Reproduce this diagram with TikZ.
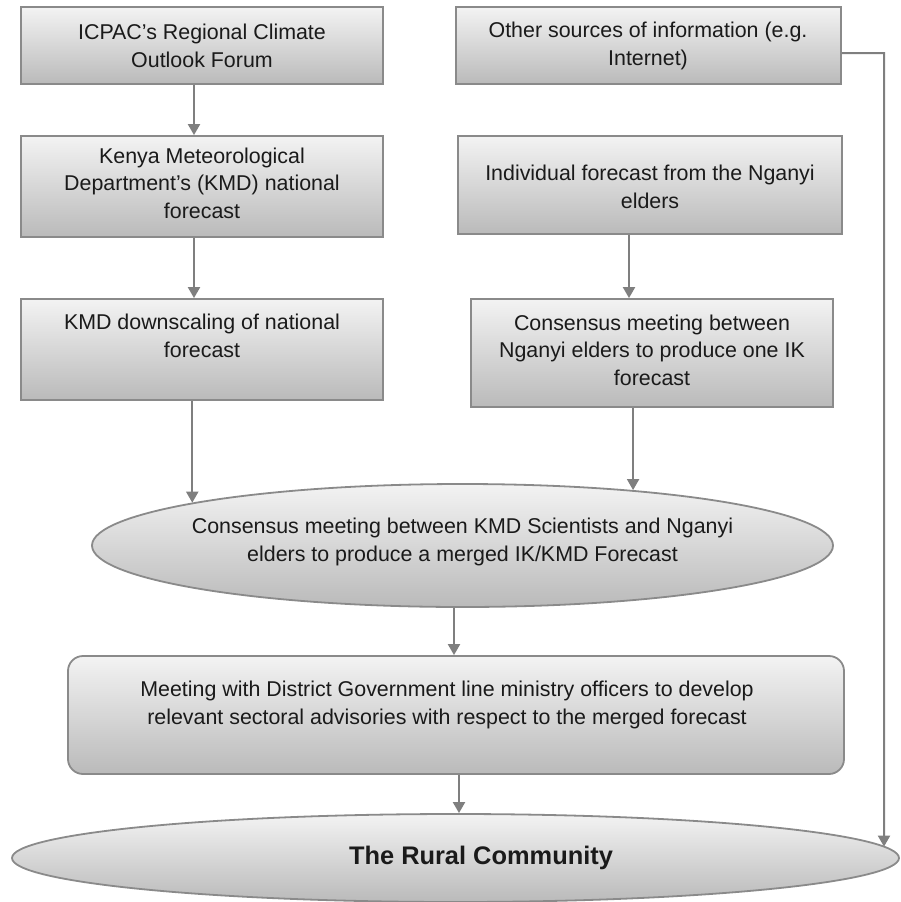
\documentclass[tikz,border=0pt]{standalone}
\usepackage{fontspec}
\setmainfont{Liberation Sans}
\usetikzlibrary{shapes.geometric,arrows.meta,calc,intersections}
\definecolor{gtop}{HTML}{F3F3F3}
\definecolor{gbot}{HTML}{BABABA}
\definecolor{edgec}{HTML}{8A8A8A}
\definecolor{connc}{HTML}{7F7F7F}
\definecolor{ink}{HTML}{1A1A1A}
\begin{document}
\begin{tikzpicture}[x=1pt,y=-1pt,
  shp/.style={draw=edgec,line width=1.8pt,top color=gtop,bottom color=gbot,inner sep=0pt},
  boxs/.style={shp,rectangle},
  rbox/.style={shp,rectangle,rounded corners=15pt},
  ell/.style={shp,ellipse},
  txt/.style={text=ink,align=center,font=\fontsize{21.4}{27.5}\selectfont,inner sep=0pt},
  arr/.style={draw=connc,line width=2pt,-{Triangle[width=12pt,length=11pt]}}]
\useasboundingbox (0,0) rectangle (901,902);
% shapes
\node[boxs,minimum width=362pt,minimum height=77pt] (b1) at (202,45.5) {};
\node[boxs,minimum width=362pt,minimum height=101pt] (b2) at (202,186.5) {};
\node[boxs,minimum width=362pt,minimum height=101pt] (b3) at (202,349.5) {};
\node[boxs,minimum width=385pt,minimum height=77pt] (r1) at (648.5,45.5) {};
\node[boxs,minimum width=384pt,minimum height=98pt] (r2) at (650,185) {};
\node[boxs,minimum width=362pt,minimum height=108pt] (r3) at (652,353) {};
\node[ell,minimum width=741pt,minimum height=123pt] (e1) at (462.5,545.5) {};
\node[rbox,minimum width=776pt,minimum height=118pt] (rb) at (456,715) {};
\node[ell,minimum width=887pt,minimum height=88pt,name path=e2path] (e2) at (455.5,858) {};
% texts
\node[txt] (b1t) at (202,46) {ICPAC’s Regional Climate\\Outlook Forum};
\node[txt] (b2t) at (202,183) {Kenya Meteorological\\Department’s (KMD) national\\forecast};
\node[txt] (b3t) at (202,336) {KMD downscaling of national\\forecast};
\node[txt] (r1t) at (648,46) {Other sources of information (e.g.\\Internet)};
\node[txt] (r2t) at (650,187) {Individual forecast from the Nganyi\\elders};
\node[txt] (r3t) at (652,350) {Consensus meeting between\\Nganyi elders to produce one IK\\forecast};
\node[txt] (e1t) at (462.5,542) {Consensus meeting between KMD Scientists and Nganyi\\elders to produce a merged IK/KMD Forecast};
\node[txt] (rbt) at (447,705) {Meeting with District Government line ministry officers to develop\\relevant sectoral advisories with respect to the merged forecast};
\node[txt,font=\fontsize{25.4}{30}\selectfont\bfseries] (e2t) at (481,858) {The Rural Community};
% connectors
\draw[arr] ([xshift=-8pt]b1.south) -- ([xshift=-8pt]b2.north);
\draw[arr] ([xshift=-8pt]b2.south) -- ([xshift=-8pt]b3.north);
\draw[arr] (b3.south -| e1.171.2) -- (e1.171.2);
\draw[arr] ([xshift=-21pt]r2.south) -- ([xshift=-21pt]r2.south |- r3.north);
\draw[arr] (r3.south -| e1.18.6) -- (e1.18.6);
\draw[arr] ([xshift=-8.5pt]e1.south) -- ([xshift=-8.5pt]e1.south |- rb.north);
\draw[arr] ([xshift=3pt]rb.south) -- ([xshift=3pt]rb.south |- e2.north);
\coordinate (rc) at (884,53);
\path[name path=vline] (rc) -- (rc |- e2.center);
\path[name intersections={of=vline and e2path,by=hit}];
\draw[arr] ([yshift=-7.5pt]r1.east) -- (rc) -- (hit);
\end{tikzpicture}
\end{document}
